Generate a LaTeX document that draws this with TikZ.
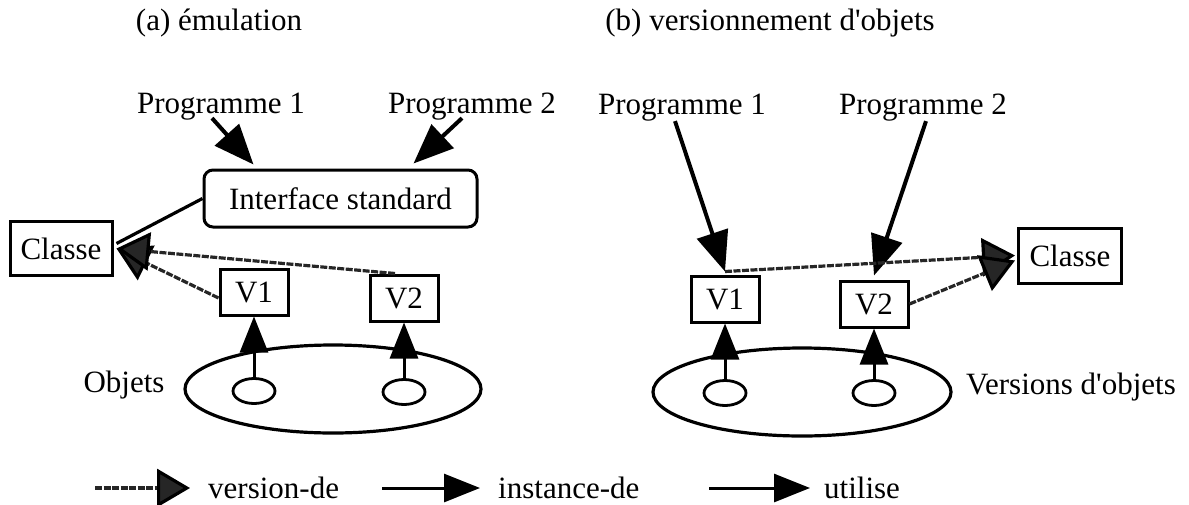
\documentclass[tikz,border=0pt]{standalone}
\usepackage{fontspec}
\setmainfont{Liberation Serif}
\usetikzlibrary{arrows.meta,shapes.geometric}

\begin{document}
\begin{tikzpicture}[
  x=1pt, y=-1pt,
  font=\fontsize{31pt}{36pt}\selectfont,
  box/.style={draw, line width=3pt, inner sep=0pt, minimum height=46pt},
  vbox/.style={box, minimum width=68pt},
  cbox/.style={box, minimum width=102pt, minimum height=54pt},
  blob/.style={draw, ellipse, line width=3.2pt, inner sep=0pt, minimum width=296pt, minimum height=88pt},
  obj/.style={draw, ellipse, line width=2.8pt, inner sep=0pt, minimum width=42pt, minimum height=25pt},
  uses/.style={line width=4pt, -{Triangle[length=40pt, width=32pt]}},
  inst/.style={line width=3pt, -{Triangle[length=36pt, width=28pt]}},
  vers/.style={line width=3.2pt, black!85, dash pattern=on 7pt off 1.5pt,
    -{Triangle[length=33pt, width=38pt, fill=black!85, color=black]}},
  legtext/.style={anchor=west, inner sep=0pt}
]
  \useasboundingbox (0,0) rectangle (1189,504);

  \node (ta) at (219,23) {(a) émulation};
  \node (tb) at (770,23) {(b) versionnement d\textquotesingle objets};

  % (a)
  \node (p1) at (221,107) {Programme 1};
  \node (p2) at (472,107) {Programme 2};
  \node[box, rounded corners=9pt, minimum width=273pt, minimum height=57pt] (ifc) at (340.5,198.5) {Interface standard};
  \node[cbox] (cls1) at (61,248.5) {Classe};
  \node[vbox] (v1) at (254,292) {V1};
  \node[vbox] (v2) at (404,298) {V2};
  \node[blob] (objs1) at (333,389) {};
  \node[obj] (o1) at (254,391) {};
  \node[obj] (o2) at (404,392) {};
  \node (lobj1) at (124,385) {Objets};

  \draw[uses] ([xshift=-9pt,yshift=6pt]p1.south) -- ([xshift=51pt,yshift=4pt]ifc.north west);
  \draw[uses] ([xshift=-10pt,yshift=6pt]p2.south) -- ([xshift=-65pt,yshift=5pt]ifc.north east);
  \draw[line width=3.2pt] (ifc.west) -- ([xshift=3pt,yshift=5pt]cls1.east);
  \draw[vers] ([yshift=-6pt]v1.west) -- ([xshift=3pt]cls1.east);
  \draw[vers] ([xshift=-9pt]v2.north) -- ([xshift=3pt]cls1.east);
  \draw[inst] (o1.north) -- (v1.south);
  \draw[inst] (o2.north) -- (v2.south);

  % (b)
  \node (p3) at (682,108) {Programme 1};
  \node (p4) at (923,108) {Programme 2};
  \node[vbox] (v3) at (725,299) {V1};
  \node[vbox] (v4) at (874,304) {V2};
  \node[cbox, minimum width=103pt, minimum height=55pt] (cls2) at (1070,255.5) {Classe};
  \node[blob, minimum width=298pt] (objs2) at (802,392) {};
  \node[obj] (o3) at (725,393) {};
  \node[obj] (o4) at (874,393) {};
  \node (lobj2) at (1071,387) {Versions d\textquotesingle objets};

  \draw[uses] ([xshift=-7pt,yshift=4pt]p3.south) -- ([yshift=3pt]v3.north);
  \draw[uses] ([xshift=3pt,yshift=4pt]p4.south) -- ([yshift=4pt]v4.north);
  \draw[vers] ([yshift=3pt]v3.north) -- ([xshift=-2pt]cls2.west);
  \draw[vers] (v4.east) -- ([xshift=-2pt,yshift=-5pt]cls2.west);
  \draw[inst] (o3.north) -- (v3.south);
  \draw[inst] (o4.north) -- (v4.south);

  % legende
  \coordinate (lv) at (95,488);
  \coordinate (li) at (382,488);
  \coordinate (lu) at (709,488);
  \node[legtext] (tv) at (208,488) {version-de};
  \node[legtext] (ti) at (498,488) {instance-de};
  \node[legtext] (tu) at (824,488) {utilise};
  \draw[vers] (lv) -- ([xshift=-18pt]tv.west);
  \draw[inst] (li) -- ([xshift=-18pt]ti.west);
  \draw[inst] (lu) -- ([xshift=-14pt]tu.west);
\end{tikzpicture}
\end{document}
